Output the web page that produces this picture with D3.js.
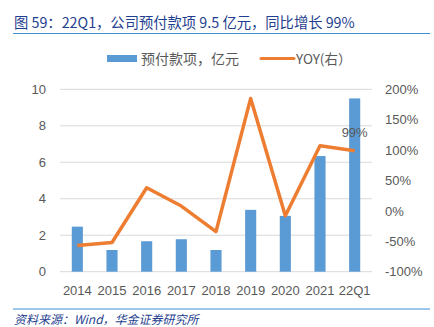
<!DOCTYPE html>
<html><head><meta charset="utf-8">
<script src="https://cdn.jsdelivr.net/npm/d3@7"></script>
<style>
body{margin:0;background:#fff;}
svg{display:block;font-family:"Noto Sans CJK SC","Liberation Sans",sans-serif;}
</style></head>
<body><svg id="chart" width="434" height="327"></svg>
<script>
// Prepayments (100m CNY) and their year-over-year growth (%)
const categories = ["2014","2015","2016","2017","2018","2019","2020","2021","22Q1"];
const prepayments = [2.47, 1.19, 1.67, 1.78, 1.19, 3.39, 3.06, 6.34, 9.5];
const yoy = [-57, -52, 38, 8, -34, 185, -8, 107, 99];
const leftTicks = [0, 2, 4, 6, 8, 10];
const rightTicks = [-100, -50, 0, 50, 100, 150, 200];

const svg = d3.select("#chart");
const m = {left: 60, right: 372, top: 89.3, bottom: 271.7};
const gray = "#595959";

const x = d3.scaleBand().domain(categories).range([m.left, m.right]).paddingInner(0.68).paddingOuter(0.34);
const yL = d3.scaleLinear().domain([0, 10]).range([m.bottom, m.top]);
const yR = d3.scaleLinear().domain([-100, 200]).range([m.bottom, m.top]);

// Title and rule beneath
svg.append("text").attr("x", 14).attr("y", 28).attr("fill", "#1f3f8f")
  .attr("font-size", 14.3).text("图 59：22Q1，公司预付款项 9.5 亿元，同比增长 99%");
svg.append("line").attr("x1", 13).attr("x2", 430).attr("y1", 33.5).attr("y2", 33.5)
  .attr("stroke", "#3d8fd6").attr("stroke-width", 1);

// Legend
svg.append("rect").attr("x", 107).attr("y", 55).attr("width", 30).attr("height", 7).attr("fill", "#5b9bd5");
svg.append("text").attr("x", 141).attr("y", 63.5).attr("fill", gray).attr("font-size", 14).text("预付款项，亿元");
svg.append("line").attr("x1", 261).attr("x2", 294).attr("y1", 58.5).attr("y2", 58.5)
  .attr("stroke", "#ed7d31").attr("stroke-width", 3).attr("stroke-linecap", "round");
svg.append("text").attr("x", 296).attr("y", 63.5).attr("fill", gray).attr("font-size", 13.5).text("YOY(右）");

// Gridlines
svg.append("g").selectAll("line").data(leftTicks).join("line")
  .attr("x1", m.left).attr("x2", m.right)
  .attr("y1", d => yL(d)).attr("y2", d => yL(d))
  .attr("stroke", "#d9d9d9").attr("stroke-width", 1);

// Left axis
const axL = svg.append("g").attr("transform", `translate(${m.left - 14},0)`)
  .call(d3.axisLeft(yL).tickValues(leftTicks).tickSize(0).tickPadding(0));
axL.select(".domain").remove();
axL.selectAll("text").attr("fill", gray).attr("font-size", 13).attr("font-family", "Liberation Sans, sans-serif");

// Right axis
const axR = svg.append("g").attr("transform", `translate(${m.right + 13},0)`)
  .call(d3.axisRight(yR).tickValues(rightTicks).tickSize(0).tickPadding(0).tickFormat(d => d + "%"));
axR.select(".domain").remove();
axR.selectAll("text").attr("fill", gray).attr("font-size", 13).attr("font-family", "Liberation Sans, sans-serif");

// Category axis
const axX = svg.append("g").attr("transform", `translate(0,${m.bottom})`)
  .call(d3.axisBottom(x).tickSize(0).tickPadding(14));
axX.select(".domain").remove();
axX.selectAll("text").attr("fill", gray).attr("font-size", 13).attr("font-family", "Liberation Sans, sans-serif");

// Bars
svg.append("g").selectAll("rect").data(prepayments).join("rect")
  .attr("x", (d, i) => x(categories[i]))
  .attr("width", x.bandwidth())
  .attr("y", d => yL(d))
  .attr("height", d => yL(0) - yL(d))
  .attr("fill", "#5b9bd5");

// YOY line
const cx = i => x(categories[i]) + x.bandwidth() / 2;
svg.append("path").datum(yoy)
  .attr("d", d3.line().x((d, i) => cx(i)).y(d => yR(d)))
  .attr("fill", "none").attr("stroke", "#ed7d31").attr("stroke-width", 3.5)
  .attr("stroke-linejoin", "round");

// Label on the last point
const last = yoy.length - 1;
svg.append("text").attr("x", cx(last)).attr("y", yR(yoy[last]) - 14)
  .attr("text-anchor", "middle").attr("fill", gray).attr("font-size", 13)
  .attr("font-family", "Liberation Sans, sans-serif").text(yoy[last] + "%");

// Footer rule and source
svg.append("line").attr("x1", 13).attr("x2", 430).attr("y1", 309).attr("y2", 309)
  .attr("stroke", "#3d8fd6").attr("stroke-width", 1);
svg.append("text").attr("x", 14).attr("y", 324).attr("fill", "#1f3f8f")
  .attr("font-size", 12).attr("font-style", "italic").text("资料来源：Wind，华金证券研究所");
</script></body></html>
